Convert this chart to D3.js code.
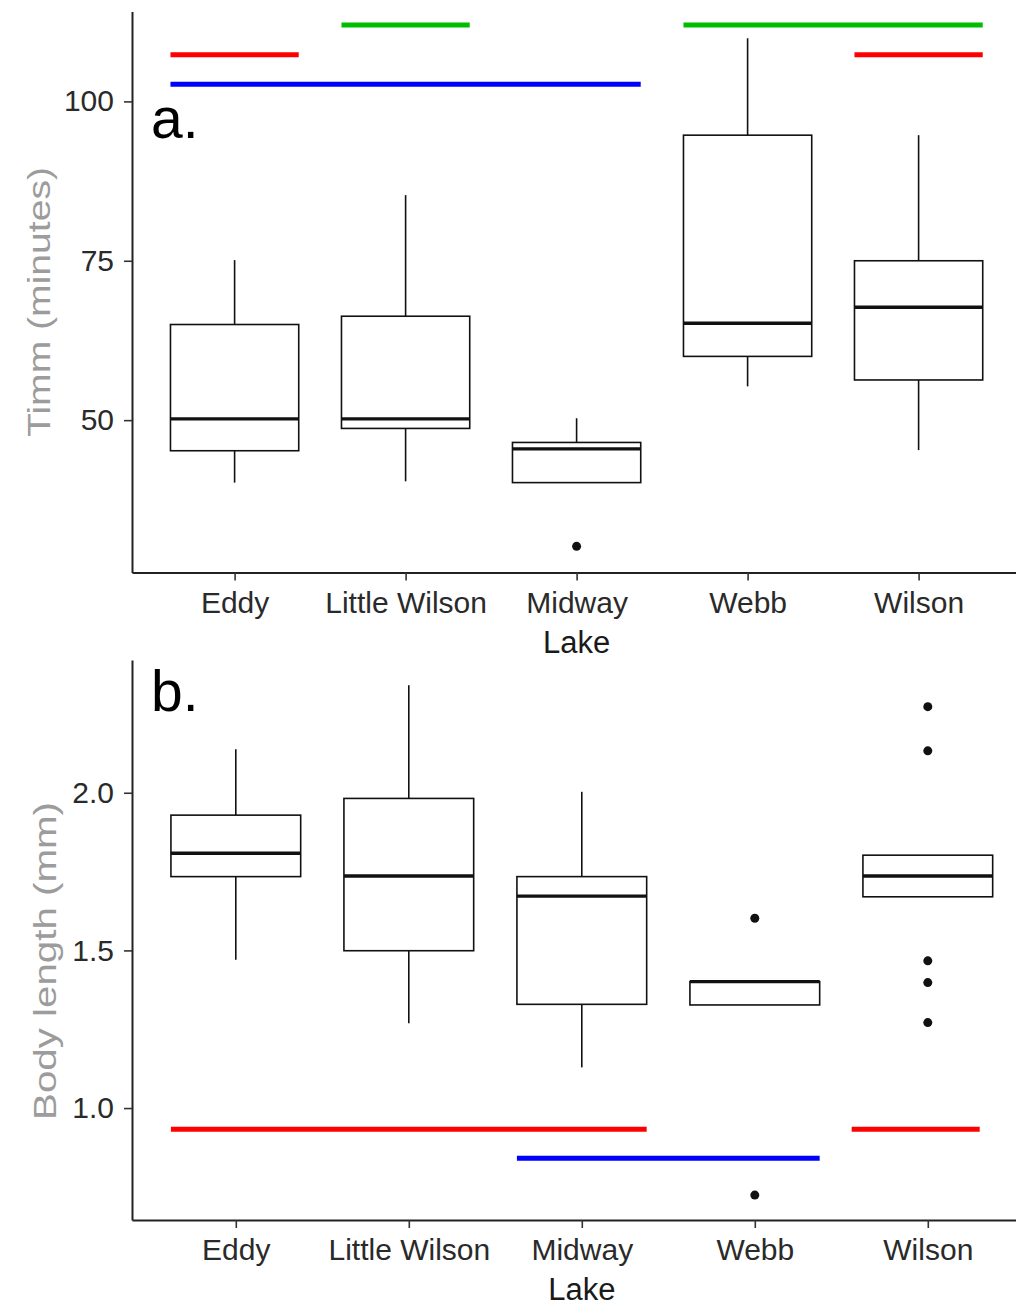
<!DOCTYPE html>
<html>
<head>
<meta charset="utf-8">
<script src="https://cdn.jsdelivr.net/npm/d3@7"></script>
<style>
  html, body { margin: 0; padding: 0; background: #fff; }
  svg { display: block; font-family: "Liberation Sans", Arial, sans-serif; }
</style>
</head>
<body>
<svg id="chart"></svg>
<script>
// Data
const lakes = ["Eddy", "Little Wilson", "Midway", "Webb", "Wilson"];

// [lower whisker, q1, median, q3, upper whisker]
const timmStats = [
  [40.2, 45.2, 50.2, 65.0, 75.1],
  [40.4, 48.7, 50.2, 66.3, 85.3],
  [40.2, 40.2, 45.5, 46.5, 50.3],
  [55.3, 60.0, 65.2, 94.7, 109.9],
  [45.3, 56.3, 67.7, 75.0, 94.7]
];
const timmOutliers = [[], [], [30.2], [], []];
const timmTicks = [50, 75, 100];
const timmDomain = [26.1, 114.1];

const lengthStats = [
  [1.470, 1.734, 1.808, 1.929, 2.138],
  [1.269, 1.499, 1.736, 1.982, 2.341],
  [1.129, 1.329, 1.672, 1.734, 2.003],
  [1.327, 1.327, 1.401, 1.401, 1.401],
  [1.670, 1.670, 1.736, 1.802, 1.802]
];
const lengthOutliers = [[], [], [], [1.602, 0.724], [2.273, 2.133, 1.467, 1.398, 1.271]];
const lengthTicks = [1.0, 1.5, 2.0];
const lengthDomain = [0.645, 2.421];

// significance bars: group, level, from / to in category units (1 = Eddy)
const timmSigGroup = ["A", "B", "C", "B", "A"];
const timmSigLevel = [107.3, 112.0, 102.7, 112.0, 107.3];
const timmSigFrom = [0.625, 1.625, 0.625, 3.625, 4.625];
const timmSigTo = [1.375, 2.375, 3.375, 5.375, 5.375];

const lengthSigGroup = ["A", "C", "A"];
const lengthSigLevel = [0.933, 0.841, 0.933];
const lengthSigFrom = [0.625, 2.625, 4.56];
const lengthSigTo = [3.375, 4.375, 5.30];

const sigColor = { A: "#ff0000", B: "#00bd00", C: "#0000ff" };

const width = 1016, height = 1306;

const svg = d3.select("#chart")
  .attr("width", width)
  .attr("height", height)
  .attr("viewBox", [0, 0, width, height]);

drawPanel({
  top: 11.5, bottom: 572.5, left: 132, step: 171,
  domain: timmDomain, ticks: timmTicks, fmt: d3.format("d"),
  stats: timmStats, outliers: timmOutliers,
  sig: timmSigGroup.map((g, i) => ({g, y: timmSigLevel[i], from: timmSigFrom[i], to: timmSigTo[i]})),
  title: "Timm (minutes)", titleX: 50, titleY: 302, titleLen: 270,
  tag: "a.", tagY: 138
});

drawPanel({
  top: 660, bottom: 1220, left: 132, step: 173,
  domain: lengthDomain, ticks: lengthTicks, fmt: d3.format(".1f"),
  stats: lengthStats, outliers: lengthOutliers,
  sig: lengthSigGroup.map((g, i) => ({g, y: lengthSigLevel[i], from: lengthSigFrom[i], to: lengthSigTo[i]})),
  title: "Body length (mm)", titleX: 56, titleY: 961, titleLen: 318,
  tag: "b.", tagY: 711
});

function drawPanel(p) {
  const right = p.left + p.step * (lakes.length - 1 + 1.2);

  const x = d3.scalePoint()
    .domain(lakes)
    .range([p.left, right])
    .padding(0.6);
  // category units (1-based) -> px, for the significance bars
  const xu = d3.scaleLinear([1, lakes.length], [x(lakes[0]), x(lakes[lakes.length - 1])]);
  const y = d3.scaleLinear(p.domain, [p.bottom, p.top]);
  const boxW = x.step() * 0.75;

  const g = svg.append("g");

  // significance bars
  g.selectAll("line.sig")
    .data(p.sig)
    .join("line")
    .attr("class", "sig")
    .attr("x1", d => xu(d.from))
    .attr("x2", d => xu(d.to))
    .attr("y1", d => y(d.y))
    .attr("y2", d => y(d.y))
    .attr("stroke", d => sigColor[d.g])
    .attr("stroke-width", 5);

  const box = g.selectAll("g.box")
    .data(p.stats.map((s, i) => ({lake: lakes[i], s, out: p.outliers[i]})))
    .join("g")
    .attr("class", "box")
    .attr("transform", d => `translate(${x(d.lake)},0)`);

  // whiskers
  box.append("line")
    .attr("y1", d => y(d.s[0])).attr("y2", d => y(d.s[1]))
    .attr("stroke", "#111").attr("stroke-width", 1.6);
  box.append("line")
    .attr("y1", d => y(d.s[3])).attr("y2", d => y(d.s[4]))
    .attr("stroke", "#111").attr("stroke-width", 1.6);

  box.append("rect")
    .attr("x", -boxW / 2)
    .attr("width", boxW)
    .attr("y", d => y(d.s[3]))
    .attr("height", d => y(d.s[1]) - y(d.s[3]))
    .attr("fill", "none")
    .attr("stroke", "#111")
    .attr("stroke-width", 1.6);

  box.append("line")
    .attr("x1", -boxW / 2).attr("x2", boxW / 2)
    .attr("y1", d => y(d.s[2])).attr("y2", d => y(d.s[2]))
    .attr("stroke", "#111").attr("stroke-width", 3.4);

  box.selectAll("circle")
    .data(d => d.out)
    .join("circle")
    .attr("r", 4.5)
    .attr("cy", d => y(d))
    .attr("fill", "#111");

  // axes
  const yAxis = g.append("g")
    .attr("transform", `translate(${p.left},0)`)
    .call(d3.axisLeft(y).tickValues(p.ticks).tickFormat(p.fmt).tickSize(8).tickSizeOuter(0).tickPadding(10));

  const xAxis = g.append("g")
    .attr("transform", `translate(0,${p.bottom})`)
    .call(d3.axisBottom(x).tickSize(8).tickSizeOuter(0).tickPadding(11));

  [xAxis, yAxis].forEach(a => {
    a.select(".domain").attr("stroke", "#222").attr("stroke-width", 2);
    a.selectAll(".tick line").attr("stroke", "#333").attr("stroke-width", 1.6);
    a.selectAll(".tick text")
      .attr("fill", "#2a2a2a")
      .style("font-size", "30px")
      .style("font-family", "'Liberation Sans', Arial, sans-serif");
  });

  // x title
  g.append("text")
    .attr("x", x(lakes[2]))
    .attr("y", p.bottom + 80)
    .attr("text-anchor", "middle")
    .attr("fill", "#1a1a1a")
    .style("font-size", "31px")
    .text("Lake");

  // y title
  g.append("text")
    .attr("transform", `translate(${p.titleX},${p.titleY}) rotate(-90)`)
    .attr("text-anchor", "middle")
    .attr("fill", "#9c9c9c")
    .attr("textLength", p.titleLen)
    .attr("lengthAdjust", "spacingAndGlyphs")
    .style("font-size", "32px")
    .text(p.title);

  // panel tag
  g.append("text")
    .attr("x", 151)
    .attr("y", p.tagY)
    .attr("fill", "#000")
    .style("font-size", "57px")
    .text(p.tag);
}
</script>
</body>
</html>
